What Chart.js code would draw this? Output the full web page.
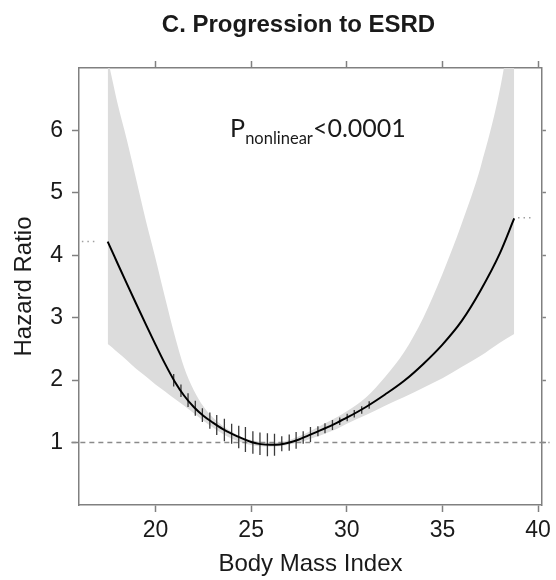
<!DOCTYPE html>
<html>
<head>
<meta charset="utf-8">
<script src="https://cdn.jsdelivr.net/npm/chart.js@4.4.0/dist/chart.umd.min.js"></script>
<style>
  html, body { margin: 0; padding: 0; background: #fff; }
  #wrap { width: 556px; height: 580px; }
</style>
</head>
<body>
<div id="wrap"><canvas id="esrd"></canvas></div>
<script>

// values
const bmi    = [17.5, 17.75, 18, 18.5, 19, 19.5, 20, 20.5, 21, 21.5, 22, 22.5, 23, 23.5, 24, 24.5, 25, 25.5, 26, 26.5, 27, 27.5, 28, 28.5, 29, 29.5, 30, 31, 32, 33, 34, 35, 36, 37, 38, 38.75];
const hazard = [4.22, 4.05, 3.88, 3.545, 3.215, 2.89, 2.57, 2.26, 1.98, 1.75, 1.57, 1.43, 1.32, 1.22, 1.14, 1.07, 1.01, 0.975, 0.965, 0.97, 1.00, 1.05, 1.116, 1.18, 1.246, 1.32, 1.398, 1.57, 1.77, 1.99, 2.26, 2.57, 2.945, 3.44, 4.03, 4.59];
const upper  = [7.15, 6.8, 6.45, 5.85, 5.2, 4.55, 3.95, 3.32, 2.72, 2.2, 1.84, 1.58, 1.40, 1.27, 1.17, 1.09, 1.04, 1.01, 1.0, 1.01, 1.04, 1.10, 1.17, 1.25, 1.33, 1.41, 1.50, 1.72, 2.05, 2.45, 3.0, 3.7, 4.5, 5.42, 6.65, 8.0];
const lower  = [2.58, 2.52, 2.45, 2.32, 2.18, 2.06, 1.93, 1.82, 1.70, 1.59, 1.47, 1.35, 1.24, 1.14, 1.06, 1.0, 0.96, 0.94, 0.935, 0.94, 0.97, 1.0, 1.05, 1.10, 1.16, 1.22, 1.30, 1.44, 1.59, 1.73, 1.88, 2.03, 2.21, 2.39, 2.60, 2.74];

// short vertical marks along the curve
const markBmi  = [20.95, 21.33, 21.7, 22.08, 22.45, 22.84, 23.2, 23.6, 23.98, 24.35, 24.7, 25.09, 25.46, 25.85, 26.22, 26.6, 26.99, 27.35, 27.72, 28.1, 28.49, 28.86, 29.25, 29.63, 30.02, 30.39, 30.78, 31.17];
const markLow  = [1.90, 1.73, 1.57, 1.43, 1.33, 1.22, 1.12, 1.02, 0.98, 0.91, 0.85, 0.82, 0.80, 0.78, 0.79, 0.86, 0.87, 0.90, 0.98, 1.01, 1.10, 1.15, 1.20, 1.28, 1.34, 1.40, 1.46, 1.54];
const markHigh = [2.10, 1.93, 1.79, 1.67, 1.55, 1.48, 1.44, 1.38, 1.30, 1.27, 1.25, 1.18, 1.16, 1.15, 1.14, 1.10, 1.13, 1.17, 1.18, 1.25, 1.26, 1.31, 1.36, 1.40, 1.46, 1.52, 1.58, 1.66];

const refLine   = [{x: 15.6, y: 1}, {x: 40.6, y: 1}];
const leftStub  = [{x: 16.15, y: 4.22}, {x: 16.9, y: 4.22}];
const rightStub = [{x: 38.95, y: 4.6}, {x: 39.8, y: 4.6}];

const xTicks = [20, 25, 30, 35, 40];
const yTicks = [1, 2, 3, 4, 5, 6];

const chartTitle = "C. Progression to ESRD";
const xTitle = "Body Mass Index";
const yTitle = "Hazard Ratio";
const pNote = {x: 23.9, y: 5.89, main: "P", sub: "nonlinear", rest: "<0.0001"};


const axisGray = "#808080";
const textColor = "#1a1a1a";
const band = "#dcdcdc";

function points(xs, ys){
  return xs.map((x, i) => ({x: x, y: ys[i]}));
}

function markPoints(){
  const pts = [];
  markBmi.forEach((x, i) => {
    pts.push({x: x, y: markLow[i]});
    pts.push({x: x, y: markHigh[i]});
    pts.push({x: x, y: null});
  });
  return pts;
}

function setTicks(list){
  return scale => { scale.ticks = list.map(v => ({value: v})); };
}

const annotate = {
  id: "annotate",
  afterDraw(chart){
    const ctx = chart.ctx;
    ctx.save();
    ctx.fillStyle = textColor;
    ctx.textBaseline = "alphabetic";

    ctx.font = 'bold 24px "Liberation Sans", Arial, sans-serif';
    ctx.textAlign = "center";
    ctx.fillText(chartTitle, 298.5, 32);

    ctx.textAlign = "left";
    let x = chart.scales.x.getPixelForValue(pNote.x);
    const y = chart.scales.y.getPixelForValue(pNote.y);
    ctx.font = '25px Lato, "Open Sans", sans-serif';
    ctx.fillText(pNote.main, x, y);
    x += ctx.measureText(pNote.main).width;
    ctx.font = '16.5px Lato, "Open Sans", sans-serif';
    ctx.fillText(pNote.sub, x, y + 7);
    x += ctx.measureText(pNote.sub).width;
    ctx.font = '25px Lato, "Open Sans", sans-serif';
    ctx.fillText(pNote.rest, x, y);
    ctx.restore();
  }
};

const tickFont = {family: '"Liberation Sans", Arial, sans-serif', size: 23};
const titleFont = {family: '"Liberation Sans", Arial, sans-serif', size: 24};

function edge(extra){
  return Object.assign({
    type: "linear",
    offset: false,
    border: {display: true, color: axisGray, width: 1.5},
    grid: {display: true, drawOnChartArea: false, drawTicks: true, tickLength: 7, color: axisGray, tickColor: axisGray, tickWidth: 1.5, offset: false}
  }, extra);
}

new Chart("esrd", {
  type: "scatter",
  data: {
    datasets: [
      {
        type: "line",
        data: points(bmi, hazard),
        borderColor: "#000",
        borderWidth: 2,
        pointRadius: 0,
        cubicInterpolationMode: "monotone",
        fill: false,
        order: 1
      },
      {
        type: "line",
        data: markPoints(),
        borderColor: "#3a3a3a",
        borderWidth: 1.3,
        pointRadius: 0,
        spanGaps: false,
        tension: 0,
        fill: false,
        order: 2
      },
      {
        type: "line",
        data: refLine,
        borderColor: "#8a8a8a",
        borderWidth: 1.5,
        borderDash: [5, 4],
        pointRadius: 0,
        fill: false,
        clip: false,
        order: 3
      },
      {
        type: "line",
        data: leftStub,
        borderColor: "#a0a0a0",
        borderWidth: 1.5,
        borderDash: [1.5, 4],
        pointRadius: 0,
        fill: false,
        clip: false,
        order: 3
      },
      {
        type: "line",
        data: rightStub,
        borderColor: "#a0a0a0",
        borderWidth: 1.5,
        borderDash: [1.5, 4],
        pointRadius: 0,
        fill: false,
        clip: false,
        order: 3
      },
      {
        type: "line",
        data: points(bmi, upper),
        borderWidth: 0,
        borderColor: "rgba(0,0,0,0)",
        backgroundColor: band,
        pointRadius: 0,
        cubicInterpolationMode: "monotone",
        fill: "+1",
        order: 5
      },
      {
        type: "line",
        data: points(bmi, lower),
        borderWidth: 0,
        borderColor: "rgba(0,0,0,0)",
        pointRadius: 0,
        cubicInterpolationMode: "monotone",
        fill: false,
        order: 6
      }
    ]
  },
  options: {
    responsive: true,
    maintainAspectRatio: false,
    animation: false,
    events: [],
    layout: {padding: 0},
    plugins: {
      legend: {display: false},
      tooltip: {enabled: false},
      title: {display: false}
    },
    scales: {
      x: edge({
        position: "bottom",
        min: 16, max: 40.2,
        afterBuildTicks: setTicks(xTicks),
        afterFit: s => { s.height = 75; },
        ticks: {color: textColor, font: tickFont, padding: 5, maxRotation: 0, autoSkip: false},
        title: {display: true, text: xTitle, color: textColor, font: titleFont, padding: {top: 0, bottom: 1}}
      }),
      x2: edge({
        position: "top",
        min: 16, max: 40.2,
        afterBuildTicks: setTicks(xTicks),
        afterFit: s => { s.height = 68; },
        ticks: {display: false}
      }),
      y: edge({
        position: "left",
        min: 0, max: 7,
        afterBuildTicks: setTicks(yTicks),
        afterFit: s => { s.width = 79; },
        ticks: {color: textColor, font: tickFont, padding: 9},
        title: {display: true, text: yTitle, color: textColor, font: titleFont, padding: {top: 10, bottom: 0}}
      }),
      y2: edge({
        position: "right",
        min: 0, max: 7,
        afterBuildTicks: setTicks(yTicks),
        afterFit: s => { s.width = 4; },
        ticks: {display: false},
        grid: {display: true, drawOnChartArea: false, drawTicks: true, tickLength: 4, color: axisGray, tickColor: axisGray, tickWidth: 1.5}
      })
    }
  },
  plugins: [annotate]
});

</script>
</body>
</html>
